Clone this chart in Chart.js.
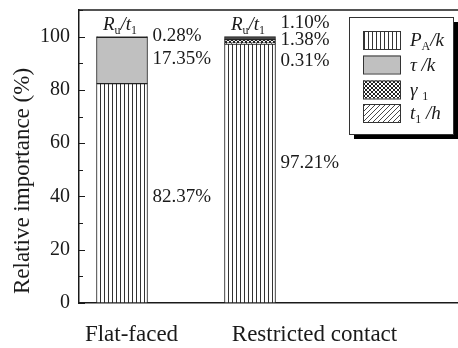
<!DOCTYPE html>
<html>
<head>
<meta charset="utf-8">
<script src="https://cdn.jsdelivr.net/npm/chart.js@4/dist/chart.umd.min.js"></script>
<style>
  html, body { margin: 0; padding: 0; background: #fff; }
  canvas { display: block; }
</style>
</head>
<body>
<canvas id="chart" width="458" height="348"></canvas>
<script>
// Relative importance of each parameter, per contact type (%)
const categories = ['Flat-faced', 'Restricted contact'];
const barPositions = [1, 2];
const paK    = [82.37, 97.21];   // P_A/k
const t1h    = [null, 0.31];     // t_1/h
const gamma1 = [null, 1.38];     // gamma_1
const tauK   = [17.35, null];    // tau/k
const ruT1   = [0.28, 1.10];     // R_u/t_1
const yTicks = [0, 20, 40, 60, 80, 100];

const SERIF = '"Liberation Serif", "Times New Roman", serif';
const INK = '#1a1a1a';

function makePattern(w, h, draw) {
  const c = document.createElement('canvas');
  c.width = w; c.height = h;
  const g = c.getContext('2d');
  g.fillStyle = '#fff';
  g.fillRect(0, 0, w, h);
  draw(g, w, h);
  return g.createPattern(c, 'repeat');
}

const vertLines = makePattern(4, 4, (g) => {
  g.fillStyle = '#333';
  g.fillRect(0, 0, 1, 4);
});
const crossHatch = makePattern(4, 4, (g) => {
  g.strokeStyle = '#222'; g.lineWidth = 1;
  g.beginPath();
  g.moveTo(0, 0); g.lineTo(4, 4);
  g.moveTo(4, 0); g.lineTo(0, 4);
  g.stroke();
});
const diagHatch = makePattern(5, 5, (g) => {
  g.strokeStyle = '#333'; g.lineWidth = 0.9;
  g.beginPath();
  g.moveTo(-1, 6); g.lineTo(6, -1);
  g.moveTo(-1, 1); g.lineTo(1, -1);
  g.moveTo(4, 6); g.lineTo(6, 4);
  g.stroke();
});
const tauFill = '#c0c0c0';
const ruFill = '#4a4a4a';

const toPoints = (arr) => barPositions.map((x, i) => ({ x, y: arr[i] }));

const barStyle = {
  borderColor: '#222',
  borderWidth: 1,
  borderSkipped: false,
  barThickness: 51
};

const datasets = [
  { label: 'P_A/k', data: toPoints(paK), backgroundColor: vertLines, ...barStyle },
  { label: 't_1/h', data: toPoints(t1h), backgroundColor: diagHatch, ...barStyle },
  { label: 'gamma_1', data: toPoints(gamma1), backgroundColor: crossHatch, ...barStyle },
  { label: 'tau/k', data: toPoints(tauK), backgroundColor: tauFill, ...barStyle },
  { label: 'R_u/t_1', data: toPoints(ruT1), backgroundColor: ruFill, ...barStyle }
];

// Rich text: parts are [text, italic, subscript]
function drawRich(ctx, parts, x, y, size, align) {
  const widths = parts.map(([t, it, sub]) => {
    ctx.font = `${it ? 'italic ' : ''}${sub ? Math.round(size * 0.62) : size}px ${SERIF}`;
    return ctx.measureText(t).width;
  });
  const total = widths.reduce((a, b) => a + b, 0);
  let cx = align === 'center' ? x - total / 2 : x;
  ctx.textAlign = 'left';
  ctx.textBaseline = 'alphabetic';
  parts.forEach(([t, it, sub], i) => {
    ctx.font = `${it ? 'italic ' : ''}${sub ? Math.round(size * 0.62) : size}px ${SERIF}`;
    ctx.fillText(t, cx, sub ? y + size * 0.22 : y);
    cx += widths[i];
  });
}

const sym = {
  PA: [['P', true], ['A', false, true], ['/k', true]],
  tau: [['\u03C4', true], [' /k', true]],
  gamma: [['\u03B3', true], [' ', false], ['1', false, true]],
  th: [['t', true], ['1', false, true], [' /h', true]],
  Ru: [['R', true], ['u', false, true], ['/', true], ['t', true], ['1', false, true]]
};

// Value label anchors (axis units) beside each bar, top to bottom
const labelAnchors = [
  [[ruT1[0], 100.3], [tauK[0], 91.6], [paK[0], 39.8]],
  [[ruT1[1], 105.2], [gamma1[1], 98.6], [t1h[1], 91.0], [paK[1], 52.6]]
];

const decorations = {
  id: 'decorations',
  afterDatasetsDraw(chart) {
    const { ctx, chartArea, scales } = chart;
    const xs = scales.x, ys = scales.y;
    ctx.save();

    // frame top line
    ctx.strokeStyle = INK; ctx.lineWidth = 1.5;
    ctx.beginPath();
    ctx.moveTo(chartArea.left, chartArea.top);
    ctx.lineTo(chartArea.right, chartArea.top);
    ctx.stroke();

    // inward ticks on the value axis
    ctx.lineWidth = 1.2;
    ctx.beginPath();
    for (let v = 0; v <= 110; v += 10) {
      const y = Math.round(ys.getPixelForValue(v)) + 0.5;
      const len = v % 20 === 0 ? 6 : 4;
      ctx.moveTo(chartArea.left, y);
      ctx.lineTo(chartArea.left + len, y);
    }
    ctx.stroke();

    ctx.fillStyle = INK;
    const half = 25.5;
    barPositions.forEach((pos, i) => {
      const cx = xs.getPixelForValue(pos);
      // symbol above each bar
      drawRich(ctx, sym.Ru, cx - 2, 30, 19, 'center');
      // values beside each bar
      ctx.font = `19px ${SERIF}`;
      ctx.textAlign = 'left';
      ctx.textBaseline = 'middle';
      labelAnchors[i].forEach(([val, lv]) => {
        ctx.fillText(val.toFixed(2) + '%', cx + half + 5, ys.getPixelForValue(lv));
      });
    });

    // category names below the axis
    ctx.font = `23px ${SERIF}`;
    ctx.textAlign = 'center';
    ctx.textBaseline = 'alphabetic';
    const catOffsets = [9.5, 64.5];
    categories.forEach((name, i) => {
      ctx.fillText(name, xs.getPixelForValue(barPositions[i]) + catOffsets[i], 341);
    });

    // axis title
    ctx.save();
    ctx.translate(23, 181);
    ctx.rotate(-Math.PI / 2);
    ctx.font = `23px ${SERIF}`;
    ctx.textAlign = 'center';
    ctx.textBaseline = 'middle';
    ctx.fillText('Relative importance (%)', 0, 0);
    ctx.restore();

    // legend box with drop shadow
    const bx = 349, by = 17, bw = 104, bh = 117;
    ctx.fillStyle = '#000';
    ctx.fillRect(bx + 5, by + 5, bw, bh);
    ctx.fillStyle = '#fff';
    ctx.fillRect(bx, by, bw, bh);
    ctx.strokeStyle = '#333'; ctx.lineWidth = 1;
    ctx.strokeRect(bx + 0.5, by + 0.5, bw, bh);

    const entries = [
      [datasets[0].backgroundColor, sym.PA],
      [datasets[3].backgroundColor, sym.tau],
      [datasets[2].backgroundColor, sym.gamma],
      [datasets[1].backgroundColor, sym.th]
    ];
    const rowTops = [31, 55.5, 80.5, 104];
    entries.forEach(([fill, parts], k) => {
      const sy = rowTops[k];
      ctx.fillStyle = fill;
      ctx.fillRect(363, sy, 37, 18);
      ctx.strokeStyle = '#333';
      ctx.strokeRect(363.5, sy + 0.5, 37, 18);
      ctx.fillStyle = INK;
      drawRich(ctx, parts, 410, sy + 15, 19, 'left');
    });

    ctx.restore();
  }
};

new Chart(document.getElementById('chart'), {
  type: 'bar',
  data: { datasets },
  plugins: [decorations],
  options: {
    responsive: false,
    animation: false,
    layout: { padding: { top: 10, right: 0, left: 0, bottom: 0 } },
    plugins: { legend: { display: false }, tooltip: { enabled: false } },
    scales: {
      x: {
        type: 'linear',
        stacked: true,
        offset: false,
        min: 0.664,
        max: 3.625,
        grid: { display: false, drawTicks: false },
        ticks: { display: false },
        border: { display: true, color: INK, width: 1.5 },
        afterFit(s) { s.height = 45; s.paddingLeft = 0; s.paddingRight = 0; }
      },
      y: {
        stacked: true,
        min: 0,
        max: 110,
        afterBuildTicks(s) { s.ticks = yTicks.map(v => ({ value: v })); },
        grid: { display: false, drawTicks: false },
        ticks: { color: INK, padding: 9, font: { family: SERIF, size: 20 } },
        border: { display: true, color: INK, width: 1.5 },
        afterFit(s) { s.width = 79; s.paddingTop = 0; s.paddingBottom = 0; }
      }
    }
  }
});
</script>
</body>
</html>
